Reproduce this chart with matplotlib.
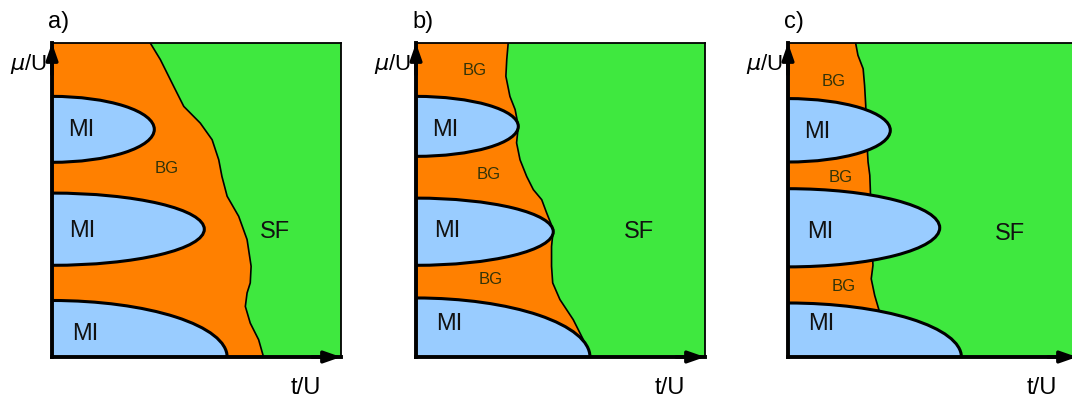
import matplotlib
matplotlib.use("Agg")
import matplotlib.pyplot as plt
from matplotlib.patches import Ellipse

plt.rcParams['font.family'] = ['Liberation Sans', 'DejaVu Sans']

# === Colours ===
ORANGE = "#ff8000"
GREEN = "#3fe83f"
BLUE = "#99ccff"
BG_TEXT = "#333308"

# === Data (axes fraction units: t/U to the right, mu/U upwards) ===
panel_names = ["a)", "b)", "c)"]

# SF / BG boundary, x values and y values
a_bound_x = [0.340, 0.375, 0.421, 0.456, 0.513, 0.554, 0.577, 0.588, 0.606, 0.646,
             0.675, 0.689, 0.686, 0.675, 0.669, 0.686, 0.715, 0.732]
a_bound_y = [1.000, 0.947, 0.862, 0.798, 0.745, 0.692, 0.628, 0.575, 0.512, 0.448,
             0.374, 0.289, 0.236, 0.204, 0.161, 0.108, 0.055, 0.000]
b_bound_x = [0.319, 0.314, 0.311, 0.325, 0.343, 0.354, 0.348, 0.360, 0.383, 0.406,
             0.435, 0.452, 0.475, 0.469, 0.469, 0.473, 0.498, 0.544, 0.579, 0.602]
b_bound_y = [1.000, 0.947, 0.894, 0.830, 0.788, 0.735, 0.682, 0.628, 0.575, 0.533,
             0.501, 0.459, 0.406, 0.352, 0.289, 0.236, 0.183, 0.119, 0.055, 0.000]
c_bound_x = [0.234, 0.242, 0.260, 0.265, 0.269, 0.271, 0.277, 0.283, 0.285, 0.288,
             0.294, 0.288, 0.300, 0.315, 0.329, 0.340]
c_bound_y = [1.000, 0.961, 0.918, 0.865, 0.801, 0.717, 0.621, 0.579, 0.531, 0.409,
             0.292, 0.249, 0.196, 0.149, 0.080, 0.000]

# Mott lobes: upper edge, lower edge, tip in t/U
a_lobe_top = [0.830, 0.522]
a_lobe_bot = [0.620, 0.292]
a_lobe_tip = [0.354, 0.527]
b_lobe_top = [0.830, 0.506]
b_lobe_bot = [0.639, 0.292]
b_lobe_tip = [0.354, 0.475]
c_lobe_top = [0.823, 0.536]
c_lobe_bot = [0.621, 0.287]
c_lobe_tip = [0.354, 0.525]

# lowest lobe: height at t=0 and where it meets the t axis
a_base = (0.180, 0.606)
b_base = (0.188, 0.602)
c_base = (0.172, 0.600)

# labels: (text, x, y)
a_labels = [("MI", 0.100, 0.723), ("MI", 0.104, 0.401), ("MI", 0.114, 0.073),
            ("BG", 0.398, 0.599), ("SF", 0.772, 0.398)]
b_labels = [("BG", 0.204, 0.914), ("MI", 0.100, 0.723), ("BG", 0.253, 0.580),
            ("MI", 0.107, 0.401), ("SF", 0.772, 0.398), ("BG", 0.260, 0.248),
            ("MI", 0.114, 0.105)]
c_labels = [("BG", 0.159, 0.876), ("MI", 0.100, 0.717), ("BG", 0.183, 0.573),
            ("MI", 0.111, 0.398), ("SF", 0.768, 0.392), ("BG", 0.194, 0.223),
            ("MI", 0.114, 0.105)]

panels = [
    (a_bound_x, a_bound_y, a_lobe_top, a_lobe_bot, a_lobe_tip, a_base, a_labels),
    (b_bound_x, b_bound_y, b_lobe_top, b_lobe_bot, b_lobe_tip, b_base, b_labels),
    (c_bound_x, c_bound_y, c_lobe_top, c_lobe_bot, c_lobe_tip, c_base, c_labels),
]

# axes positions in pixels (left edge); all share size
W, H = 1072, 401
lefts_px = [52, 416, 788]
bottom_px = 401 - 357
ax_w, ax_h = 289, 314

fig = plt.figure(figsize=(W / 100, H / 100), dpi=100)

for name, left, (bx, by, ltop, lbot, ltip, base, labels) in zip(panel_names, lefts_px, panels):
    ax = fig.add_axes([left / W, bottom_px / H, ax_w / W, ax_h / H])
    ax.set_xlim(0, 1)
    ax.set_ylim(0, 1)
    ax.set_xticks([])
    ax.set_yticks([])

    # regions: BG left of boundary, SF right of it
    ax.fill([0] + bx + [0], [1] + by + [0], color=ORANGE, lw=0, zorder=1)
    ax.fill(bx + [1, 1], by + [0, 1], color=GREEN, lw=0, zorder=1)
    ax.plot(bx, by, color="black", lw=1.2, zorder=2)

    # Mott lobes
    for top, bot, tip in zip(ltop, lbot, ltip):
        e = Ellipse((0, (top + bot) / 2), 2 * tip, top - bot,
                    facecolor=BLUE, edgecolor="black", lw=2.2, zorder=3)
        ax.add_patch(e)
    e = Ellipse((0, 0), 2 * base[1], 2 * base[0],
                facecolor=BLUE, edgecolor="black", lw=2.2, zorder=3)
    ax.add_patch(e)

    # frame
    for s in ["top", "right"]:
        ax.spines[s].set_linewidth(1.3)
    for s in ["left", "bottom"]:
        ax.spines[s].set_linewidth(2.8)
    for s in ax.spines.values():
        s.set_zorder(5)

    # axis arrows
    ax.annotate("", xy=(0, 1.0), xycoords="axes fraction", xytext=(0, 0.9),
                arrowprops=dict(arrowstyle="-|>,head_length=1.0,head_width=0.35",
                                color="black", lw=2.5, shrinkA=0, shrinkB=0),
                zorder=6, annotation_clip=False)
    ax.annotate("", xy=(1.0, 0), xycoords="axes fraction", xytext=(0.9, 0),
                arrowprops=dict(arrowstyle="-|>,head_length=1.0,head_width=0.35",
                                color="black", lw=2.5, shrinkA=0, shrinkB=0),
                zorder=6, annotation_clip=False)

    for txt, x, y in labels:
        if txt == "BG":
            ax.text(x, y, txt, fontsize=12, color=BG_TEXT, ha="center", va="center", zorder=7)
        else:
            ax.text(x, y, txt, fontsize=17, color="#111111", ha="center", va="center", zorder=7)

    ax.text(-0.014, 1.067, name, fontsize=17, ha="left", va="center",
            transform=ax.transAxes, clip_on=False)
    ax.text(-0.018, 0.933, r"$\mu$/U", fontsize=16, ha="right", va="center",
            transform=ax.transAxes, clip_on=False)
    ax.text(0.879, -0.099, "t/U", fontsize=17, ha="center", va="center",
            transform=ax.transAxes, clip_on=False)

fig.savefig("out.png", dpi=100)
